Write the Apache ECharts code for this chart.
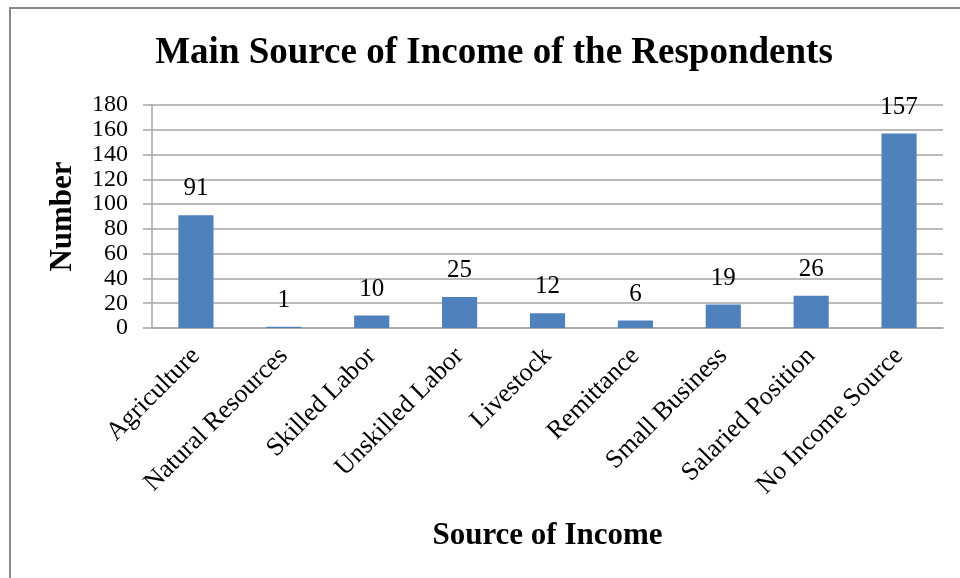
<!DOCTYPE html>
<html>
<head>
<meta charset="utf-8">
<script src="https://cdn.jsdelivr.net/npm/echarts@6/dist/echarts.min.js"></script>
<style>
  html, body { margin: 0; padding: 0; background: #fff; }
  #chart { width: 960px; height: 578px; }
</style>
</head>
<body>
<div id="chart"></div>
<script>
// Main income source of survey respondents
const categories = [
  'Agriculture', 'Natural Resources', 'Skilled Labor', 'Unskilled Labor',
  'Livestock', 'Remittance', 'Small Business', 'Salaried Position', 'No Income Source'
];
const counts = [91, 1, 10, 25, 12, 6, 19, 26, 157];
const yTicks = { min: 0, max: 180, interval: 20 };

const serif = '"Liberation Serif", "Times New Roman", serif';
const gridGray = '#a6a6a6';

const chart = echarts.init(document.getElementById('chart'), null, { renderer: 'canvas' });
chart.setOption({
  backgroundColor: '#ffffff',
  animation: false,
  title: {
    text: 'Main Source of Income of the Respondents',
    left: 489,
    textAlign: 'center',
    top: 30,
    textStyle: { fontFamily: serif, fontSize: 37, fontWeight: 'bold', color: '#000' }
  },
  graphic: [{
    type: 'rect',
    shape: { x: 10, y: 8, width: 1000, height: 1000 },
    style: { fill: 'none', stroke: '#878787', lineWidth: 2 },
    silent: true
  }],
  grid: { left: 152, right: 17, top: 105, bottom: 250 },
  xAxis: {
    type: 'category',
    data: categories,
    name: 'Source of Income',
    nameLocation: 'middle',
    nameGap: 192,
    nameTextStyle: { fontFamily: serif, fontSize: 31, fontWeight: 'bold', color: '#000' },
    axisLine: { lineStyle: { color: gridGray, width: 1.5 } },
    axisTick: { show: false },
    axisLabel: {
      rotate: 45,
      margin: 24,
      interval: 0,
      fontFamily: serif,
      fontSize: 26,
      color: '#000'
    }
  },
  yAxis: {
    type: 'value',
    min: yTicks.min,
    max: yTicks.max,
    interval: yTicks.interval,
    name: 'Number',
    nameLocation: 'middle',
    nameGap: 74,
    nameTextStyle: { fontFamily: serif, fontSize: 31, fontWeight: 'bold', color: '#000' },
    axisLine: { show: true, lineStyle: { color: gridGray, width: 1.5 } },
    axisTick: { show: true, length: 9, lineStyle: { color: gridGray, width: 1.5 } },
    axisLabel: {
      margin: 24,
      fontFamily: serif,
      fontSize: 24,
      color: '#000',
      showMinLabel: true,
      showMaxLabel: true
    },
    splitLine: { lineStyle: { color: gridGray, width: 1.5 } }
  },
  series: [{
    type: 'bar',
    data: counts,
    barCategoryGap: '60%',
    itemStyle: { color: '#4f81bd' },
    label: {
      show: true,
      position: 'top',
      distance: 14,
      fontFamily: serif,
      fontSize: 25,
      color: '#000'
    }
  }]
});
</script>
</body>
</html>
